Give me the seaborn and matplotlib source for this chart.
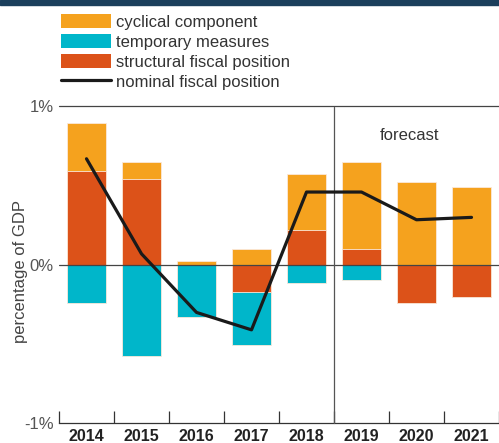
import numpy as np
import pandas as pd
import matplotlib
matplotlib.use("Agg")
import matplotlib.pyplot as plt
from matplotlib.patches import Patch, Rectangle
from matplotlib.lines import Line2D
import seaborn as sns

# Fiscal position decomposition, % of GDP
years = ["2014", "2015", "2016", "2017", "2018", "2019", "2020", "2021"]
structural = [0.59, 0.54, 0.0, -0.17, 0.22, 0.10, -0.24, -0.205]
cyclical = [0.305, 0.11, 0.025, 0.10, 0.355, 0.55, 0.525, 0.49]
temporary = [-0.24, -0.575, -0.33, -0.335, -0.115, -0.095, 0.0, 0.0]
nominal = [0.67, 0.07, -0.30, -0.41, 0.46, 0.46, 0.285, 0.30]
y_ticks = [-1, 0, 1]
y_tick_labels = ["-1%", "0%", "1%"]
legend_labels = ["cyclical component", "temporary measures",
                 "structural fiscal position", "nominal fiscal position"]

ORANGE = "#F5A21E"
CYAN = "#00B6CA"
RED = "#DC5219"
LINE = "#1A1A1A"
TEXT = "#333333"

sns.set_style("white")
plt.rcParams["font.family"] = ["Liberation Sans", "DejaVu Sans"]

df = pd.DataFrame({
    "year": years,
    "structural": structural,
    "cyclical": cyclical,
    "temporary": temporary,
    "nominal": nominal,
})
struct_pos = df["structural"].clip(lower=0)
struct_neg = df["structural"].clip(upper=0)
df["pos_total"] = struct_pos + df["cyclical"]
df["neg_total"] = struct_neg + df["temporary"]
df["struct_pos"] = struct_pos
df["struct_neg"] = struct_neg

W, H = 499, 443
fig = plt.figure(figsize=(W / 100, H / 100), dpi=100)
ax = fig.add_axes([59 / W, 1 - 423.3 / H, 440 / W, (423.3 - 106.5) / H])

bar_kw = dict(x="year", order=years, width=0.71, saturation=1,
              linewidth=0.6, edgecolor="#FBE9DA", ax=ax, errorbar=None)
# stacked segments: draw the full stack first, then the inner segment over it
sns.barplot(data=df, y="pos_total", color=ORANGE, **bar_kw)
sns.barplot(data=df, y="struct_pos", color=RED, **bar_kw)
sns.barplot(data=df, y="neg_total", color=CYAN, **bar_kw)
sns.barplot(data=df, y="struct_neg", color=RED, **bar_kw)

line_df = pd.DataFrame({"pos": np.arange(len(years)), "nominal": nominal})
sns.lineplot(data=line_df, x="pos", y="nominal", color=LINE, linewidth=2.3,
             ax=ax, zorder=5)

ax.set_xlim(-0.5, 7.3)
ax.set_ylim(-1, 1)

# reference lines
ax.axhline(0, color="#444444", linewidth=0.9, zorder=4)
ax.axhline(1, color="#444444", linewidth=0.9, zorder=4, clip_on=False)
ax.axvline(4.5, color="#555555", linewidth=0.9, zorder=4, clip_on=False)
ax.text(5.88, 0.815, "forecast", ha="center", va="center", fontsize=12,
        color=TEXT)

# axes styling
for side in ["left", "top", "right"]:
    ax.spines[side].set_visible(False)
ax.spines["bottom"].set_color("#333333")
ax.spines["bottom"].set_linewidth(0.9)

ax.set_xticks(range(len(years)))
ax.set_xticklabels(years, fontsize=11.5, fontweight="bold", color="#222222")
ax.set_xticks(np.arange(-0.5, len(years), 1.0), minor=True)
ax.tick_params(axis="x", which="major", length=0, pad=4.3)
ax.tick_params(axis="x", which="minor", bottom=True, direction="in",
               length=9, width=0.9, color="#333333")
ax.set_xlabel("")

ax.set_yticks(y_ticks)
ax.set_yticklabels(y_tick_labels, fontsize=12, color="#555555")
ax.tick_params(axis="y", length=0, pad=3.6)
ax.set_ylabel("percentage of GDP", fontsize=12, color="#444444")
ax.yaxis.set_label_coords(-0.07, 0.48)

# top band
fig.patches.append(Rectangle((0, 1 - 4.7 / H), 1, 4.7 / H,
                             transform=fig.transFigure, color="#1B3F5C",
                             zorder=0))

handles = [Patch(facecolor=ORANGE, edgecolor="none"),
           Patch(facecolor=CYAN, edgecolor="none"),
           Patch(facecolor=RED, edgecolor="none"),
           Line2D([], [], color=LINE, linewidth=2.3)]
fig.legend(handles, legend_labels, loc="upper left",
           bbox_to_anchor=(61 / W, 1 - 14 / H), frameon=False, fontsize=12,
           labelcolor=TEXT, handlelength=3.0, handleheight=0.87,
           handletextpad=0.3, labelspacing=0.27, borderpad=0,
           borderaxespad=0)

fig.savefig("out.png", dpi=100)
